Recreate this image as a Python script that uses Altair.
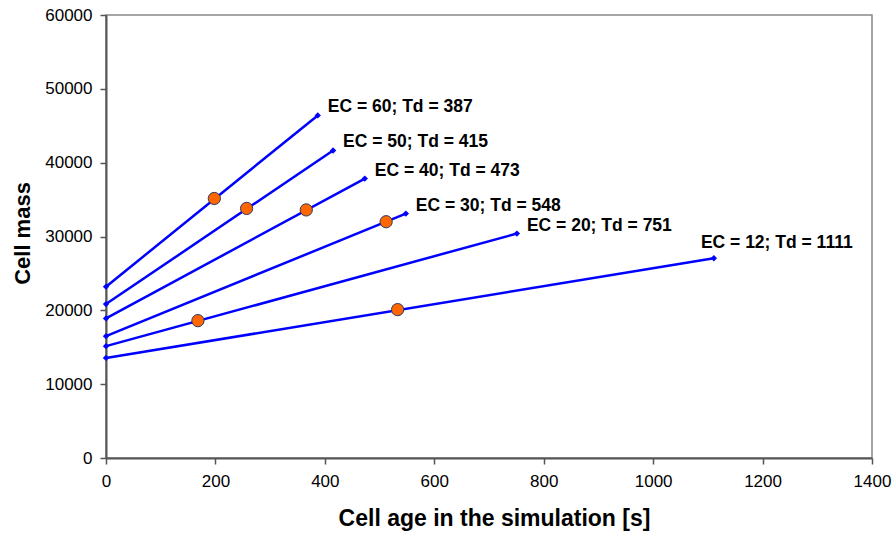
import altair as alt
import pandas as pd

# ---- data ----
ec = [60, 50, 40, 30, 20, 12]
td = [387, 415, 473, 548, 751, 1111]            # end age of each line [s]
start_mass = [23200, 20850, 18900, 16500, 15150, 13550]
end_mass = [46400, 41650, 37850, 33100, 30400, 27050]
mid_age = [198, 257, 366, 512, 168, 533]
mid_mass = [35150, 33800, 33600, 32000, 18600, 20100]
x_ticks = [0, 200, 400, 600, 800, 1000, 1200, 1400]
y_ticks = [0, 10000, 20000, 30000, 40000, 50000, 60000]

rows = []
for e, t, s, m in zip(ec, td, start_mass, end_mass):
    rows.append({"ec": e, "age": 0, "mass": s})
    rows.append({"ec": e, "age": t, "mass": m})
df_lines = pd.DataFrame(rows)

df_mid = pd.DataFrame({"ec": ec, "age": mid_age, "mass": mid_mass})
df_end = pd.DataFrame({
    "ec": ec,
    "age": td,
    "mass": end_mass,
    "label": [f"EC = {e}; Td = {t}" for e, t in zip(ec, td)],
})

FONT = "Liberation Sans"

x_enc = alt.X(
    "age:Q",
    scale=alt.Scale(domain=[0, 1400], nice=False),
    axis=alt.Axis(
        title="Cell age in the simulation [s]",
        values=x_ticks,
        format="d",
        titleX=388,
        titleY=67,
        titleAlign="center",
        titleBaseline="alphabetic",
        titleFontSize=23,
        labelPadding=9,
    ),
)
y_enc = alt.Y(
    "mass:Q",
    scale=alt.Scale(domain=[0, 60000], nice=False),
    axis=alt.Axis(
        title="Cell mass",
        values=y_ticks,
        format="d",
        titleX=-77,
        titleY=218,
        titleAlign="center",
        titleBaseline="alphabetic",
        titleAngle=270,
        labelPadding=8,
    ),
)

lines = alt.Chart(df_lines).mark_line(
    color="#0000FF",
    strokeWidth=2.5,
    point=alt.OverlayMarkDef(shape="diamond", size=40, filled=True, color="#0000FF"),
).encode(x=x_enc, y=y_enc, detail="ec:N")

circles = alt.Chart(df_mid).mark_point(
    shape="circle", filled=True, fill="#FF6600", stroke="#2B3A66",
    strokeWidth=1, size=150, opacity=1,
).encode(x="age:Q", y="mass:Q")

labels_main = alt.Chart(df_end).transform_filter(alt.datum.ec != 12).mark_text(
    align="left", baseline="middle", dx=10, dy=-8,
    font=FONT, fontSize=17.5, fontWeight="bold", color="#000000",
).encode(x="age:Q", y="mass:Q", text="label:N")

labels_last = alt.Chart(df_end).transform_filter(alt.datum.ec == 12).mark_text(
    align="left", baseline="middle", dx=-13, dy=-15,
    font=FONT, fontSize=17.5, fontWeight="bold", color="#000000",
).encode(x="age:Q", y="mass:Q", text="label:N")

chart = (
    alt.layer(lines, circles, labels_main, labels_last)
    .properties(
        width=766,
        height=443,
        padding={"left": 106, "top": 15, "right": 22, "bottom": 75},
        autosize=alt.AutoSizeParams(type="none"),
        background="white",
    )
    .configure_view(stroke="#888888", strokeWidth=1.5)
    .configure_axis(
        grid=False,
        domainColor="#555555",
        domainWidth=2,
        tickColor="#555555",
        tickWidth=1.5,
        tickSize=6,
        labelFont=FONT,
        labelFontSize=17,
        labelColor="#000000",
        labelFlush=False,
        labelOverlap=False,
        titleFont=FONT,
        titleFontSize=22,
        titleFontWeight="bold",
        titleColor="#000000",
    )
)

chart.save("out.html", embed_options={"renderer": "svg", "actions": False})
